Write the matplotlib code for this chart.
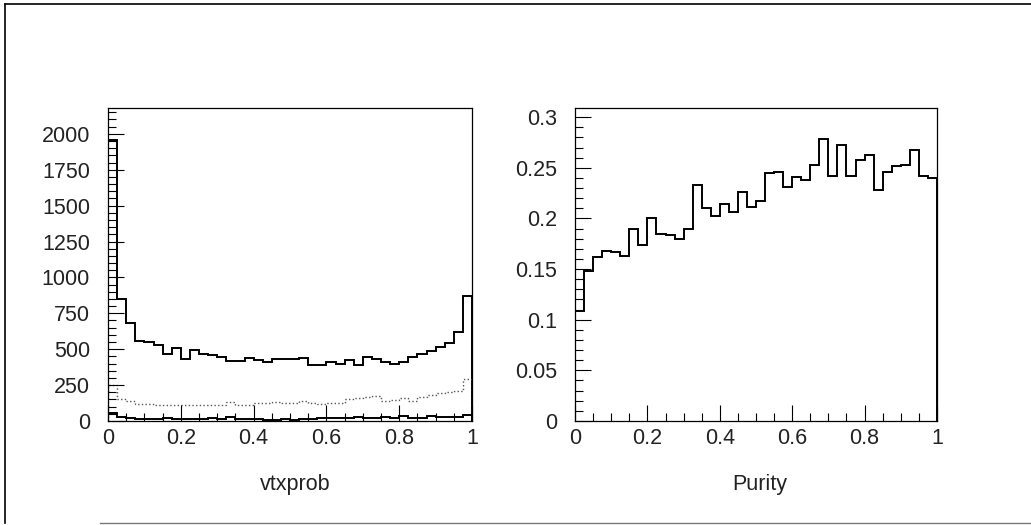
import matplotlib

matplotlib.use("Agg")
import matplotlib.pyplot as plt
import numpy as np
from matplotlib.lines import Line2D
from matplotlib.ticker import FuncFormatter, MultipleLocator

plt.rcParams["font.family"] = ["Liberation Sans", "DejaVu Sans"]

# 40 bins on [0, 1] for both histograms
bin_edges = np.linspace(0.0, 1.0, 41)

# vtxprob, all candidates (solid)
vtx_all = [1960, 848, 683, 560, 550, 530, 466, 505, 435, 495,
           466, 458, 444, 420, 415, 440, 423, 413, 430, 430,
           432, 436, 390, 390, 408, 396, 428, 392, 448, 433,
           408, 398, 413, 444, 465, 490, 518, 540, 623, 873]

# vtxprob, second sample (dotted)
vtx_dotted = [250, 150, 140, 120, 118, 112, 110, 113, 112, 111,
              110, 109, 111, 130, 113, 113, 122, 122, 130, 125,
              124, 140, 126, 118, 122, 128, 151, 163, 168, 173,
              138, 146, 158, 142, 168, 179, 193, 204, 209, 295]

# vtxprob, signal (solid, bottom)
vtx_low = [53, 25, 22, 15, 14, 15, 18, 12, 14, 12,
           15, 20, 14, 25, 15, 12, 14, 10, 8, 12,
           10, 15, 14, 20, 18, 22, 20, 25, 22, 20,
           28, 24, 35, 22, 20, 35, 30, 28, 25, 45]

# purity per bin
purity = [0.109, 0.148, 0.162, 0.168, 0.167, 0.163, 0.190, 0.174, 0.200, 0.185,
          0.184, 0.180, 0.190, 0.233, 0.210, 0.202, 0.214, 0.206, 0.226, 0.211,
          0.217, 0.245, 0.246, 0.231, 0.241, 0.238, 0.253, 0.278, 0.242, 0.272,
          0.242, 0.258, 0.263, 0.228, 0.246, 0.252, 0.253, 0.268, 0.242, 0.240]

TEXT_SIZE = 15.5
TEXT_COLOR = "#222222"


def style_axis(ax, y_major, y_minor):
    ax.set_xlim(0, 1)
    ax.xaxis.set_major_locator(MultipleLocator(0.2))
    ax.xaxis.set_minor_locator(MultipleLocator(0.05))
    ax.yaxis.set_major_locator(MultipleLocator(y_major))
    ax.yaxis.set_minor_locator(MultipleLocator(y_minor))
    fmt = FuncFormatter(lambda v, pos: f"{round(v, 4):g}")
    ax.xaxis.set_major_formatter(fmt)
    ax.yaxis.set_major_formatter(fmt)
    ax.tick_params(which="both", direction="in", top=False, right=False, width=0.8, color="black")
    ax.tick_params(which="major", length=11.5, labelcolor=TEXT_COLOR)
    ax.tick_params(which="minor", length=5.8)
    ax.tick_params(axis="x", which="major", pad=5, labelsize=TEXT_SIZE)
    ax.tick_params(axis="y", which="major", pad=13, labelsize=TEXT_SIZE)
    for side in ax.spines.values():
        side.set_linewidth(0.9)


fig = plt.figure(figsize=(10.31, 5.25), dpi=100)

ax1 = fig.add_axes([108 / 1031, 1 - 421 / 525, 364 / 1031, 313 / 525])
ax1.stairs(vtx_all, bin_edges, color="black", linewidth=1.4)
ax1.stairs(vtx_dotted, bin_edges, color="#555555", linewidth=1.0, linestyle=":")
ax1.stairs(vtx_low, bin_edges, color="black", linewidth=1.4)
ax1.set_ylim(0, 2180)
style_axis(ax1, 250, 50)
ax1.set_xlabel("vtxprob", fontsize=TEXT_SIZE, color=TEXT_COLOR)
ax1.xaxis.set_label_coords(0.514, -0.17)

ax2 = fig.add_axes([575 / 1031, 1 - 421 / 525, 362 / 1031, 313 / 525])
ax2.stairs(purity, bin_edges, color="black", linewidth=1.4)
ax2.set_ylim(0, 0.309)
style_axis(ax2, 0.05, 0.01)
ax2.set_xlabel("Purity", fontsize=TEXT_SIZE, color=TEXT_COLOR)
ax2.xaxis.set_label_coords(0.511, -0.17)

# outer page frame
fig.add_artist(Line2D([5 / 1031, 5 / 1031], [1 - 4 / 525, 1 - 523 / 525], transform=fig.transFigure, color="black", linewidth=1.2))
fig.add_artist(Line2D([5 / 1031, 1.0], [1 - 4 / 525, 1 - 4 / 525], transform=fig.transFigure, color="black", linewidth=1.2))
fig.add_artist(Line2D([100 / 1031, 1.0], [1 - 523 / 525, 1 - 523 / 525], transform=fig.transFigure, color="#777777", linewidth=1.0))

fig.savefig("out.png", dpi=100)
